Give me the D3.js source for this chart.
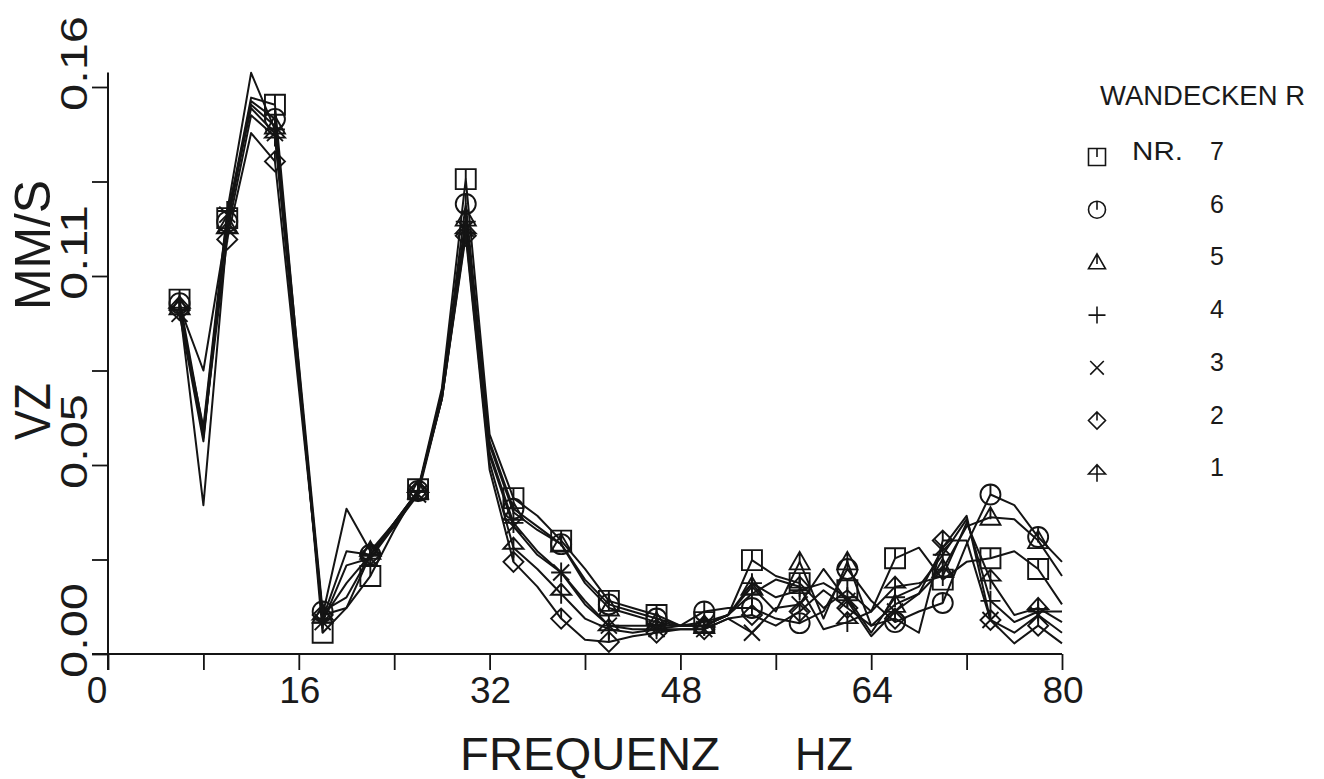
<!DOCTYPE html>
<html>
<head>
<meta charset="utf-8">
<script src="https://cdn.jsdelivr.net/npm/d3@7"></script>
<style>
  html, body { margin: 0; padding: 0; background: #ffffff; }
  svg { display: block; }
  text { font-family: "Liberation Sans", "DejaVu Sans", sans-serif; fill: #1a1a1a; }
</style>
</head>
<body>
<svg id="chart" width="1324" height="779"></svg>
<script>
// ---------- data ----------
const freq = [6, 8, 10, 12, 14, 16, 18, 20, 22, 24, 26, 28, 30, 32, 34, 36, 38, 40, 42, 44,
              46, 48, 50, 52, 54, 56, 58, 60, 62, 64, 66, 68, 70, 72, 74, 76, 78, 80];

const nr7 = [0.100,0.063,0.123,0.157,0.155,0.081,0.006,0.013,0.022,0.035,0.0465,0.075,0.134,0.062,0.044,0.039,0.032,0.024,0.015,0.013,
             0.011,0.008,0.009,0.011,0.0265,0.022,0.020,0.013,0.018,0.012,0.027,0.030,0.021,0.026,0.027,0.029,0.024,0.014];
const nr6 = [0.099,0.061,0.122,0.156,0.151,0.082,0.012,0.016,0.028,0.037,0.046,0.074,0.127,0.060,0.041,0.036,0.031,0.021,0.014,0.012,
             0.010,0.008,0.012,0.013,0.013,0.010,0.0087,0.012,0.024,0.015,0.009,0.012,0.0144,0.031,0.045,0.042,0.033,0.026];
const nr5 = [0.098,0.080,0.121,0.155,0.149,0.080,0.011,0.041,0.029,0.037,0.046,0.073,0.123,0.059,0.040,0.035,0.031,0.020,0.013,0.011,
             0.009,0.008,0.008,0.011,0.019,0.012,0.026,0.010,0.026,0.008,0.014,0.017,0.024,0.036,0.0386,0.038,0.032,0.022];
const nr4 = [0.097,0.064,0.125,0.164,0.148,0.079,0.010,0.029,0.028,0.037,0.046,0.073,0.122,0.057,0.037,0.029,0.023,0.015,0.008,0.008,
             0.008,0.008,0.008,0.011,0.020,0.016,0.018,0.020,0.016,0.006,0.016,0.019,0.028,0.038,0.015,0.009,0.012,0.012];
const nr3 = [0.096,0.060,0.124,0.154,0.147,0.078,0.009,0.025,0.027,0.036,0.045,0.072,0.120,0.056,0.036,0.028,0.023,0.014,0.008,0.007,
             0.007,0.007,0.007,0.010,0.006,0.013,0.014,0.024,0.015,0.005,0.012,0.017,0.030,0.039,0.0096,0.006,0.011,0.006];
const nr2 = [0.097,0.062,0.117,0.147,0.139,0.075,0.011,0.013,0.028,0.036,0.046,0.072,0.118,0.052,0.026,0.019,0.010,0.004,0.0034,0.005,
             0.006,0.007,0.007,0.010,0.011,0.008,0.012,0.018,0.013,0.008,0.010,0.006,0.032,0.032,0.0096,0.003,0.008,0.003];
const nr1 = [0.098,0.042,0.119,0.152,0.146,0.078,0.010,0.020,0.028,0.036,0.046,0.072,0.119,0.054,0.030,0.024,0.017,0.010,0.007,0.006,
             0.007,0.008,0.008,0.011,0.017,0.021,0.019,0.007,0.009,0.012,0.019,0.020,0.022,0.037,0.021,0.011,0.013,0.009];

const seriesNames = ["7", "6", "5", "4", "3", "2", "1"];
const seriesSymbols = ["square", "circle", "triangle", "plus", "cross", "diamond", "arrow"];
const seriesValues = [nr7, nr6, nr5, nr4, nr3, nr2, nr1];

const xTickValues = [0, 8, 16, 24, 32, 40, 48, 56, 64, 72, 80];
const xLabelValues = [0, 16, 32, 48, 64, 80];
const yTickValues = [0, 0.16/6, 0.32/6, 0.48/6, 0.64/6, 0.80/6, 0.16];
const yLabelValues = [0, 0.32/6, 0.64/6, 0.16];
const yLabelTexts = ["0.00", "0.05", "0.11", "0.16"];

const legendTitle = "WANDECKEN R";
const legendPrefix = "NR.";
const xTitleParts = ["FREQUENZ", "HZ"];
const yTitleParts = ["VZ", "MM/S"];

// ---------- layout ----------
const svg = d3.select("#chart");
const x = d3.scaleLinear().domain([0, 80]).range([108, 1062]);
const y = d3.scaleLinear().domain([0, 0.16]).range([654, 87]);
const ink = "#141414";

// symbol paths
function symbolPath(kind, r) {
  switch (kind) {
    case "square":   return `M${-r},${-r}H${r}V${r}H${-r}ZM0,${-r}V0`;
    case "circle":   return `M${r},0A${r},${r} 0 1 1 ${-r},0A${r},${r} 0 1 1 ${r},0M0,${-r}V0`;
    case "triangle": return `M0,${-r}L${r},${r*0.75}L${-r},${r*0.75}ZM0,${-r}V${r*0.2}`;
    case "plus":     return `M${-r},0H${r}M0,${-r}V${r}`;
    case "cross":    return `M${-r*0.8},${-r*0.8}L${r*0.8},${r*0.8}M${r*0.8},${-r*0.8}L${-r*0.8},${r*0.8}`;
    case "diamond":  return `M0,${-r}L${r},0L0,${r}L${-r},0ZM0,${-r}V0`;
    case "arrow":    return `M${-r},${r*0.1}L0,${-r}L${r},${r*0.1}ZM0,${-r}V${r}`;
  }
}

// ---------- axes ----------
const xAxis = d3.axisBottom(x).tickValues(xTickValues).tickSize(16).tickFormat("");
const gx = svg.append("g").attr("transform", `translate(0,${y(0)})`).call(xAxis);
gx.select(".domain").remove();
gx.selectAll(".tick line").attr("stroke", ink).attr("stroke-width", 1.8);

const yAxis = d3.axisLeft(y).tickValues(yTickValues).tickSize(16).tickFormat("");
const gy = svg.append("g").attr("transform", `translate(${x(0)},0)`).call(yAxis);
gy.select(".domain").remove();
gy.selectAll(".tick line").attr("stroke", ink).attr("stroke-width", 1.8);

// axis lines (extended slightly past origin like the plotter)
svg.append("line").attr("x1", x(0) - 16).attr("x2", x(80)).attr("y1", y(0)).attr("y2", y(0))
   .attr("stroke", ink).attr("stroke-width", 2);
svg.append("line").attr("x1", x(0)).attr("x2", x(0)).attr("y1", y(0.1641)).attr("y2", y(0) + 16)
   .attr("stroke", ink).attr("stroke-width", 2);

// x tick labels
svg.selectAll("text.xl").data(xLabelValues).enter().append("text")
   .attr("class", "xl")
   .attr("x", d => d === 0 ? x(d) - 11 : x(d) + 1)
   .attr("y", y(0) + 49)
   .attr("text-anchor", "middle")
   .attr("font-size", 37)
   .text(d => d);

// y tick labels (rotated)
svg.selectAll("text.yl").data(yLabelValues).enter().append("text")
   .attr("class", "yl")
   .attr("transform", d => `translate(87,${y(d) + 24}) rotate(-90)`)
   .attr("text-anchor", "start")
   .attr("font-size", 37)
   .attr("textLength", 95)
   .attr("lengthAdjust", "spacingAndGlyphs")
   .text((d, i) => yLabelTexts[i]);

// axis titles
svg.append("text").attr("x", 460).attr("y", 770).attr("font-size", 46)
   .attr("textLength", 260).attr("lengthAdjust", "spacingAndGlyphs").text(xTitleParts[0]);
svg.append("text").attr("x", 795).attr("y", 770).attr("font-size", 46)
   .attr("textLength", 58).attr("lengthAdjust", "spacingAndGlyphs").text(xTitleParts[1]);
svg.append("text").attr("transform", "translate(50,440) rotate(-90)").attr("font-size", 50)
   .attr("textLength", 57).attr("lengthAdjust", "spacingAndGlyphs").text(yTitleParts[0]);
svg.append("text").attr("transform", "translate(50,310) rotate(-90)").attr("font-size", 50)
   .attr("textLength", 130).attr("lengthAdjust", "spacingAndGlyphs").text(yTitleParts[1]);

// ---------- series ----------
const line = d3.line().x((d, i) => x(freq[i])).y(d => y(d)).curve(d3.curveLinear);
const plot = svg.append("g");
seriesValues.forEach((vals, s) => {
  plot.append("path").attr("d", line(vals)).attr("fill", "none")
      .attr("stroke", ink).attr("stroke-width", 2).attr("stroke-linejoin", "round");
});
seriesValues.forEach((vals, s) => {
  const pts = vals.map((v, i) => ({ f: freq[i], v })).filter((d, i) => i % 2 === 0);
  plot.selectAll(null).data(pts).enter().append("path")
      .attr("transform", d => `translate(${x(d.f)},${y(d.v)})`)
      .attr("d", symbolPath(seriesSymbols[s], 10))
      .attr("fill", "none").attr("stroke", ink).attr("stroke-width", 1.9);
});

// ---------- legend ----------
const lg = svg.append("g");
lg.append("text").attr("x", 1100).attr("y", 105).attr("font-size", 28)
  .attr("textLength", 205).attr("lengthAdjust", "spacingAndGlyphs").text(legendTitle);
lg.append("text").attr("x", 1132).attr("y", 160).attr("font-size", 25)
  .attr("textLength", 51).attr("lengthAdjust", "spacingAndGlyphs").text(legendPrefix);
seriesNames.forEach((name, i) => {
  const cy = 157 + i * 52.7;
  lg.append("path").attr("transform", `translate(1097,${cy})`)
    .attr("d", symbolPath(seriesSymbols[i], 8.5))
    .attr("fill", "none").attr("stroke", ink).attr("stroke-width", 1.6);
  lg.append("text").attr("x", 1210).attr("y", cy + 3).attr("font-size", 25).text(name);
});
</script>
</body>
</html>
